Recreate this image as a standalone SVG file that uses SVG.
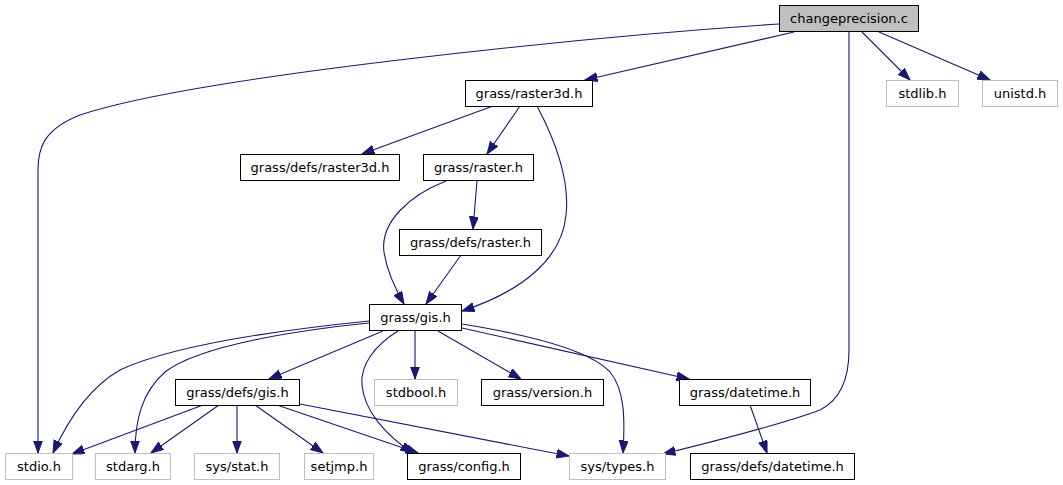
<svg xmlns="http://www.w3.org/2000/svg" width="1063" height="485" viewBox="0 0 1063 485">
<style>
.n rect{fill:#fff;stroke:#000;stroke-width:1}
.g rect{fill:#fff;stroke:#bfbfbf;stroke-width:1}
.r rect{fill:#bfbfbf;stroke:#000;stroke-width:1}
text{font-family:"DejaVu Sans","Liberation Sans",sans-serif;font-size:13px;fill:#000;text-anchor:middle}
#edges path{fill:none;stroke:#191970;stroke-width:1.1;marker-end:url(#ah)}
</style>
<defs>
<marker id="ah" markerUnits="userSpaceOnUse" markerWidth="14" markerHeight="10" refX="12.5" refY="4.5" orient="auto" viewBox="0 0 14 10">
<path d="M0,0 L12.5,4.5 L0,9 z" fill="#191970" stroke="#191970" stroke-width="1"/>
</marker>
</defs>
<rect width="1063" height="485" fill="#fff"/>
<g id="edges">
<path d="M779,24 C600,36 200,75 80,115 C42,130 38,150 38,170 L38,453"/>
<path d="M794,32 L585,80"/>
<path d="M862,32 L910,80"/>
<path d="M879,32 L990,80"/>
<path d="M849,32 L849,350 C849,380 840,400 820,410 C780,425 720,440 663,454"/>
<path d="M493,106 L362,154"/>
<path d="M520,106 L487,154"/>
<path d="M537,106 C555,140 570,180 566,215 C562,260 520,292 462,311"/>
<path d="M477,181 L473,229"/>
<path d="M446,181 C410,195 380,222 384,252 C387,272 396,290 404,304"/>
<path d="M461,255 L426,304"/>
<path d="M369,321 C300,328 180,342 120,370 C90,387 68,420 53,453"/>
<path d="M369,323 C300,330 200,345 165,372 C142,392 135,420 135,453"/>
<path d="M383,331 L269,379"/>
<path d="M398,331 C375,345 360,365 362,385 C364,410 385,435 413,453"/>
<path d="M415,331 L415,379"/>
<path d="M438,331 L521,379"/>
<path d="M462,324 C530,335 590,350 610,372 C625,390 625,420 623,453"/>
<path d="M462,328 L689,379"/>
<path d="M203,405 L72,454"/>
<path d="M219,405 L151,453"/>
<path d="M237,405 L237,453"/>
<path d="M255,405 L323,453"/>
<path d="M277,405 L418,453"/>
<path d="M300,404 L569,456"/>
<path d="M750,405 L767,453"/>
</g>
<g id="node-changeprecision" class="r"><rect x="779.5" y="5.5" width="139" height="26"/><text x="849" y="22.5">changeprecision.c</text></g>
<g id="node-raster3d" class="n"><rect x="465.5" y="80.5" width="127" height="26"/><text x="529" y="97.5">grass/raster3d.h</text></g>
<g id="node-stdlib" class="g"><rect x="886.5" y="80.5" width="72" height="26"/><text x="922.5" y="97.5">stdlib.h</text></g>
<g id="node-unistd" class="g"><rect x="982.5" y="80.5" width="75" height="26"/><text x="1020" y="97.5">unistd.h</text></g>
<g id="node-defs-raster3d" class="n"><rect x="240.5" y="154.5" width="159" height="26"/><text x="320" y="171.5">grass/defs/raster3d.h</text></g>
<g id="node-raster" class="n"><rect x="423.5" y="154.5" width="110" height="26"/><text x="478.5" y="171.5">grass/raster.h</text></g>
<g id="node-defs-raster" class="n"><rect x="399.5" y="229.5" width="142" height="26"/><text x="470.5" y="246.5">grass/defs/raster.h</text></g>
<g id="node-gis" class="n"><rect x="369.5" y="304.5" width="92" height="26"/><text x="415.5" y="321.5">grass/gis.h</text></g>
<g id="node-defs-gis" class="n"><rect x="175.5" y="379.5" width="124" height="26"/><text x="237.5" y="396.5">grass/defs/gis.h</text></g>
<g id="node-stdbool" class="g"><rect x="374.5" y="379.5" width="83" height="26"/><text x="416" y="396.5">stdbool.h</text></g>
<g id="node-version" class="n"><rect x="481.5" y="379.5" width="122" height="26"/><text x="542.5" y="396.5">grass/version.h</text></g>
<g id="node-datetime" class="n"><rect x="679.5" y="379.5" width="131" height="26"/><text x="745" y="396.5">grass/datetime.h</text></g>
<g id="node-stdio" class="g"><rect x="5.5" y="453.5" width="67" height="26"/><text x="39" y="470.5">stdio.h</text></g>
<g id="node-stdarg" class="g"><rect x="95.5" y="453.5" width="75" height="26"/><text x="133" y="470.5">stdarg.h</text></g>
<g id="node-sysstat" class="g"><rect x="194.5" y="453.5" width="85" height="26"/><text x="237" y="470.5">sys/stat.h</text></g>
<g id="node-setjmp" class="g"><rect x="304.5" y="453.5" width="69" height="26"/><text x="339" y="470.5">setjmp.h</text></g>
<g id="node-config" class="n"><rect x="407.5" y="453.5" width="113" height="26"/><text x="464" y="470.5">grass/config.h</text></g>
<g id="node-systypes" class="g"><rect x="569.5" y="453.5" width="96" height="26"/><text x="617.5" y="470.5">sys/types.h</text></g>
<g id="node-defs-datetime" class="n"><rect x="690.5" y="453.5" width="164" height="26"/><text x="772.5" y="470.5">grass/defs/datetime.h</text></g>
</svg>
